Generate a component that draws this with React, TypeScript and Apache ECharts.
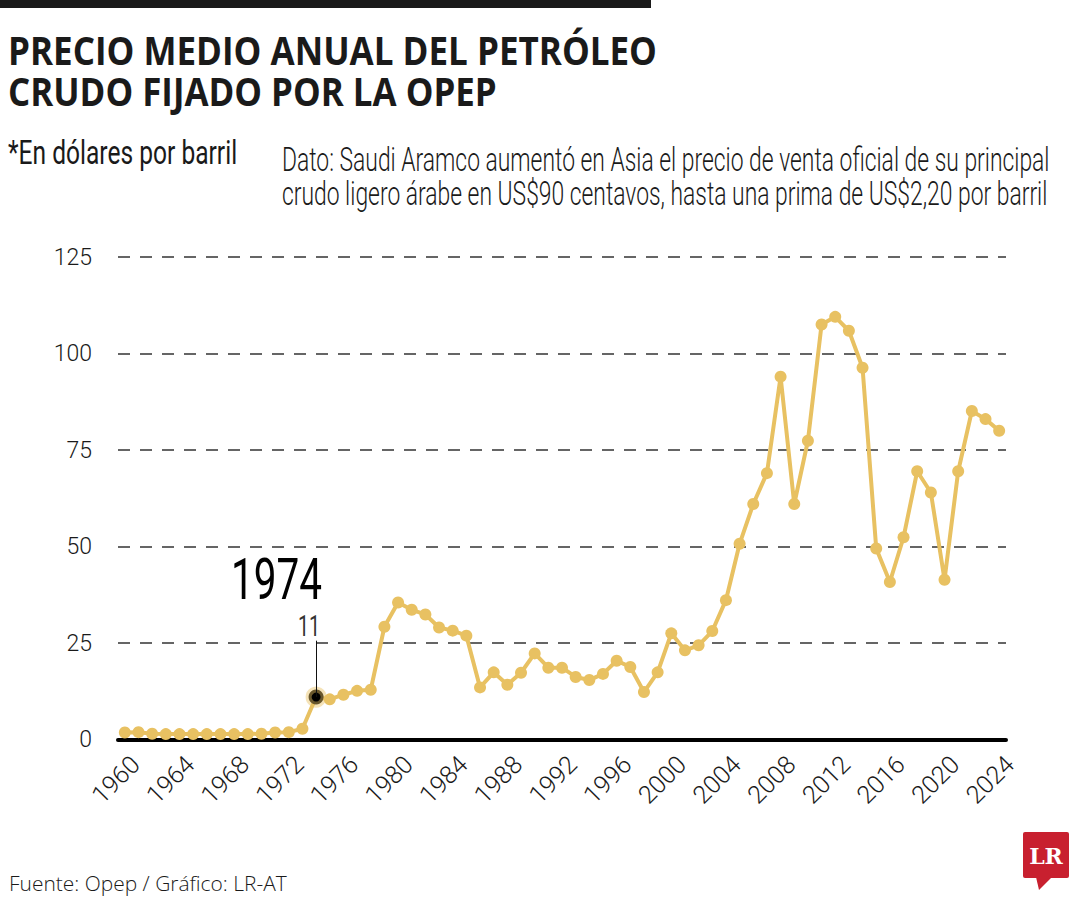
import React, { useEffect, useRef } from "react";
import * as echarts from "echarts";

const years = [
  "1960", "1961", "1962", "1963", "1964", "1965", "1966", "1967", "1968", "1969",
  "1970", "1971", "1972", "1973", "1974", "1975", "1976", "1977", "1978", "1979",
  "1980", "1981", "1982", "1983", "1984", "1985", "1986", "1987", "1988", "1989",
  "1990", "1991", "1992", "1993", "1994", "1995", "1996", "1997", "1998", "1999",
  "2000", "2001", "2002", "2003", "2004", "2005", "2006", "2007", "2008", "2009",
  "2010", "2011", "2012", "2013", "2014", "2015", "2016", "2017", "2018", "2019",
  "2020", "2021", "2022", "2023", "2024",
];

const prices = [
  1.8, 1.9, 1.5, 1.4, 1.4, 1.4, 1.4, 1.4, 1.4, 1.4,
  1.5, 1.8, 1.9, 2.8, 11, 10.4, 11.6, 12.6, 12.9, 29.2,
  35.5, 33.6, 32.4, 29.0, 28.2, 26.9, 13.5, 17.4, 14.2, 17.3,
  22.3, 18.6, 18.6, 16.2, 15.4, 17.0, 20.4, 18.8, 12.3, 17.4,
  27.5, 23.1, 24.4, 28.1, 36.1, 50.7, 61.0, 69.0, 94.0, 61.0,
  77.4, 107.5, 109.5, 105.9, 96.3, 49.5, 40.8, 52.4, 69.5, 64.0,
  41.4, 69.5, 85.1, 83.0, 80.0,
];

const highlightYear = "1974";
const highlightTop = 25.6;

const titleLines = ["PRECIO MEDIO ANUAL DEL PETRÓLEO", "CRUDO FIJADO POR LA OPEP"];
const unitText = "*En dólares por barril";
const noteLines = [
  "Dato: Saudi Aramco aumentó en Asia el precio de venta oficial de su principal",
  "crudo ligero árabe en US$90 centavos, hasta una prima de US$2,20 por barril",
];
const sourceText = "Fuente: Opep / Gráfico: LR-AT";

const GOLD = "#E8C162";
const LIGHT = '300 33px Roboto, "Open Sans", sans-serif';
const AXIS_FONT = "Roboto, sans-serif";

export default function App() {
  const ref = useRef<HTMLDivElement>(null);

  useEffect(() => {
    document.body.style.margin = "0";
    const chart = echarts.init(ref.current!, undefined, { renderer: "svg" });
    const canvas = document.createElement("canvas");
    const ctx = canvas.getContext("2d")!;
    const fit = (text: string, font: string, w: number) => {
      ctx.font = font;
      return w / ctx.measureText(text).width;
    };
    const txt = (
      text: string,
      font: string,
      x: number,
      y: number,
      w: number,
      align: string = "left",
      fill = "#1a1a1a"
    ) => ({
      type: "text",
      x,
      y,
      scaleX: fit(text, font, w),
      style: {
        text,
        font,
        fill,
        align,
        textAlign: align,
        verticalAlign: "middle",
        textVerticalAlign: "middle",
      },
    });

    const hIdx = years.indexOf(highlightYear);
    const seriesData = prices.map((v, i) =>
      i === hIdx
        ? {
            value: v,
            symbolSize: 15,
            itemStyle: { color: "#000", borderColor: "rgba(232,193,98,0.45)", borderWidth: 6 },
            z: 5,
          }
        : v
    );

    chart.setOption({
      animation: false,
      backgroundColor: "#ffffff",
      grid: { left: 118, right: 74, top: 257, bottom: 160.5, containLabel: false },
      xAxis: {
        type: "category",
        data: years,
        boundaryGap: true,
        axisLine: { show: true, lineStyle: { color: "#000", width: 4 } },
        axisTick: { show: false },
        axisLabel: {
          interval: 3,
          rotate: 45,
          margin: 10,
          verticalAlign: "top",
          lineHeight: 30,
          fontFamily: AXIS_FONT,
          fontWeight: 300,
          fontSize: 25,
          color: "#1a1a1a",
        },
        splitLine: { show: false },
      },
      yAxis: {
        type: "value",
        min: 0,
        max: 125,
        interval: 25,
        axisLine: { show: false },
        axisTick: { show: false },
        axisLabel: {
          margin: 26,
          fontFamily: AXIS_FONT,
          fontWeight: 300,
          fontSize: 23,
          color: "#1a1a1a",
        },
        splitLine: { show: true, lineStyle: { color: "#333", width: 1.5, type: [12, 10] } },
      },
      series: [
        {
          type: "line",
          data: seriesData,
          symbol: "circle",
          symbolSize: 12,
          showAllSymbol: true,
          lineStyle: { color: GOLD, width: 4 },
          itemStyle: { color: GOLD },
          z: 3,
          markLine: {
            silent: true,
            symbol: "none",
            label: { show: false },
            lineStyle: { color: "#111", width: 1, type: "solid" },
            data: [[{ coord: [hIdx, prices[hIdx]] }, { coord: [hIdx, highlightTop] }]],
          },
        },
      ],
    });

    const [px, py] = chart.convertToPixel({ seriesIndex: 0 }, [hIdx, prices[hIdx]]) as number[];

    chart.setOption({
      graphic: [
        { type: "rect", shape: { x: 0, y: 0, width: 651, height: 8 }, style: { fill: "#1a1a1a" } },
        txt(titleLines[0], '700 40px "Open Sans", sans-serif', 8, 50, 649),
        txt(titleLines[1], '700 40px "Open Sans", sans-serif', 8, 90.5, 489),
        txt(unitText, '400 33px Roboto, "Open Sans", sans-serif', 8, 153, 229),
        txt(noteLines[0], LIGHT, 282, 160, 768),
        txt(noteLines[1], LIGHT, 282, 194, 766),
        txt(sourceText, '300 20px "Open Sans", Roboto, sans-serif', 9, 883, 278),
        txt(highlightYear, '400 58px Roboto, sans-serif', px + 6, py - 118, 91, "right", "#000"),
        txt(String(prices[hIdx]), '400 30px Roboto, sans-serif', px + 4, py - 71, 22, "right", "#333333"),
        { type: "rect", shape: { x: 1023, y: 832, width: 46, height: 46, r: 2 }, style: { fill: "#C8202F" } },
        { type: "polygon", shape: { points: [[1036, 877], [1052, 877], [1039, 890]] }, style: { fill: "#C8202F" } },
        {
          type: "text",
          x: 1046,
          y: 856,
          style: {
            text: "LR",
            font: '700 22px "DejaVu Serif", "Liberation Serif", serif',
            fill: "#fff",
            align: "center",
            textAlign: "center",
            verticalAlign: "middle",
            textVerticalAlign: "middle",
          },
        },
      ],
    });

    return () => chart.dispose();
  }, []);

  return <div ref={ref} style={{ width: 1080, height: 900 }} />;
}
